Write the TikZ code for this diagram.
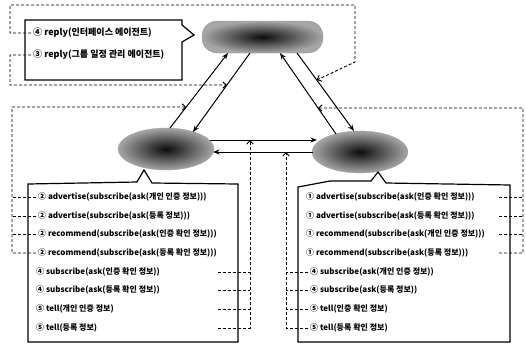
\documentclass[tikz,border=0pt]{standalone}
\usepackage{fontspec}
\setmainfont{Noto Sans CJK KR}
\usetikzlibrary{shapes.geometric,arrows.meta,calc}
\begin{document}
\begin{tikzpicture}[x=1pt,y=-1pt,
  font=\fontsize{8}{9}\selectfont\bfseries,
  solid arrow/.style={line width=1pt,-{Stealth[length=6.5pt,width=5pt]}},
  dash arrow/.style={line width=0.9pt,dash pattern=on 3pt off 2pt,-{Straight Barb[length=3.5pt,width=6.5pt]}},
  dash line/.style={line width=0.9pt,dash pattern=on 3pt off 2pt},
  callout/.style={line width=1.2pt,fill=white,line join=miter},
  blob/.style={shade,inner color=black!95,outer color=black!35,draw=black!40,line width=0.3pt},
  txt/.style={anchor=west,inner sep=0pt},
  big/.style={font=\fontsize{9}{10}\selectfont\bfseries}]
\useasboundingbox (0,0) rectangle (526,348);

% agents
\node[blob,rounded corners=15pt,minimum width=121pt,minimum height=32pt] (top) at (262.5,37) {};
\node[blob,ellipse,minimum width=96pt,minimum height=42pt] (left) at (166,149) {};
\node[blob,ellipse,minimum width=96pt,minimum height=42pt] (right) at (360,152) {};

% connector end points
\coordinate (l1a) at (170,128); \coordinate (l1b) at (228,53);
\coordinate (l2a) at (250,53);  \coordinate (l2b) at (193,132);
\coordinate (r1a) at (336,134); \coordinate (r1b) at (280,53);
\coordinate (r2a) at (297,53);  \coordinate (r2b) at (354,131);
\coordinate (h1a) at (210,140); \coordinate (h1b) at (317,140);
\coordinate (h2a) at (313,152); \coordinate (h2b) at (213,152);

\draw[solid arrow] (l1a) -- (l1b);
\draw[solid arrow] (l2a) -- (l2b);
\draw[solid arrow] (r1a) -- (r1b);
\draw[solid arrow] (r2a) -- (r2b);
\draw[solid arrow] (h1a) -- (h1b);
\draw[solid arrow] (h2a) -- (h2b);

% callouts
\draw[callout] (25,20) -- (182,20) -- (182,25) -- (194,35) -- (182,42) -- (182,80) -- (25,80) -- cycle;
\draw[callout] (28,184) -- (137,182) -- (144,170) -- (152,183) -- (238,184) -- (238,342) -- (28,342) -- cycle;
\draw[callout] (298,187) -- (330,181) -- (371,181) -- (378,172) -- (386,183) -- (510,185) -- (510,342) -- (298,342) -- cycle;

% texts
\node[txt,big] (rp4) at (33,33) {④ reply(인터페이스 에이전트)};
\node[txt,big] (rp3) at (33,55) {③ reply(그룹 일정 관리 에이전트)};

\node[txt] (la1) at (38,197) {② advertise(subscribe(ask(개인 인증 정보)))};
\node[txt] (la2) at (38,216) {② advertise(subscribe(ask(등록 정보)))};
\node[txt] (la3) at (38,234) {② recommend(subscribe(ask(인증 확인 정보)))};
\node[txt] (la4) at (38,253) {② recommend(subscribe(ask(등록 확인 정보)))};
\node[txt] (la5) at (36,272) {④ subscribe(ask(인증 확인 정보))};
\node[txt] (la6) at (36,290) {④ subscribe(ask(등록 확인 정보))};
\node[txt] (la7) at (36,309) {⑤ tell(개인 인증 정보)};
\node[txt] (la8) at (36,328) {⑤ tell(등록 정보)};

\node[txt] (ra1) at (306,197) {① advertise(subscribe(ask(인증 확인 정보)))};
\node[txt] (ra2) at (306,216) {① advertise(subscribe(ask(등록 확인 정보)))};
\node[txt] (ra3) at (306,234) {① recommend(subscribe(ask(개인 인증 정보)))};
\node[txt] (ra4) at (306,253) {① recommend(subscribe(ask(등록 정보)))};
\node[txt] (ra5) at (310,272) {④ subscribe(ask(개인 인증 정보))};
\node[txt] (ra6) at (310,290) {④ subscribe(ask(등록 정보))};
\node[txt] (ra7) at (310,309) {⑤ tell(인증 확인 정보)};
\node[txt] (ra8) at (310,328) {⑤ tell(등록 확인 정보)};

% dashed message paths
\coordinate (c1) at (10,5);
\coordinate (c2) at (355,62);
\coordinate (c3) at (10,85);
\coordinate (lv) at (12,107);
\coordinate (lts) at (218,272);
\coordinate (lvr) at (250,328);
\coordinate (rvl) at (286,328);
\coordinate (rts) at (499,197);
\coordinate (rv) at (523,108);

\coordinate (t1) at ($(r2a)!0.346!(r2b)$);
\coordinate (t2) at ($(l2a)!0.405!(l2b)$);
\coordinate (t3) at ($(l1a)!0.28!(l1b)$);
\coordinate (t6) at ($(r1b)!0.679!(r1a)$);

\draw[dash arrow] ([xshift=-2pt]rp4.west) -| (c1) -| (c2) -- (t1);
\draw[dash arrow] ([xshift=-2pt]rp3.west) -| (c3) -- (t2);

\draw[dash arrow] ([xshift=-2pt]la4.west) -| (lv) -- (t3);
\foreach \n in {la1,la2,la3}
  \draw[dash line] ([xshift=-2pt]\n.west) -- (\n.west -| lv);

\draw[dash arrow] (la8.west -| lts) -| (lvr |- h1a);
\foreach \n in {la5,la6,la7}
  \draw[dash line] (\n.west -| lts) -- (\n.west -| lvr);

\draw[dash arrow] ([xshift=-2pt]ra8.west) -| (rvl |- h2a);
\foreach \n in {ra5,ra6,ra7}
  \draw[dash line] ([xshift=-2pt]\n.west) -- (\n.west -| rvl);

\draw[dash arrow] (ra4.west -| rts) -| (rv) -- (t6);
\foreach \n in {ra1,ra2,ra3}
  \draw[dash line] (\n.west -| rts) -- (\n.west -| rv);
\end{tikzpicture}
\end{document}
